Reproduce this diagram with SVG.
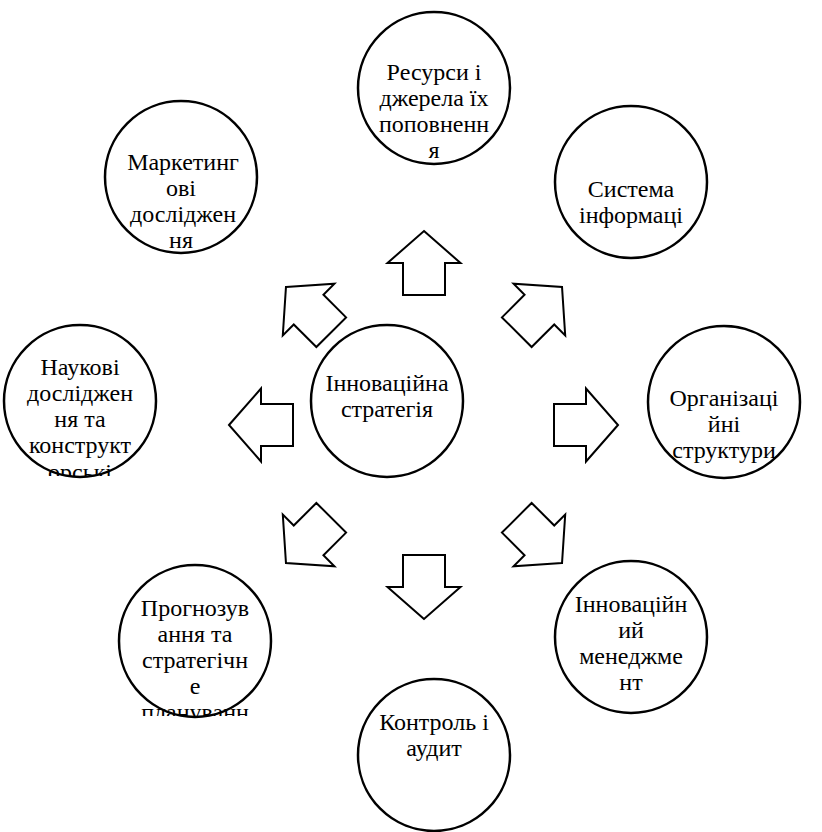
<svg xmlns="http://www.w3.org/2000/svg" width="822" height="832" viewBox="0 0 822 832">
<style>
.c{fill:#fff;stroke:#000;stroke-width:2.5}
.a{fill:#fff;stroke:#000;stroke-width:2;stroke-linejoin:miter}
text{font-family:"Liberation Serif","Times New Roman",serif;font-size:24px;fill:#000;text-anchor:middle}
</style>
<defs>
<path id="arr" d="M0,-32 L36.5,0 L21,0 L21,32 L-21,32 L-21,0 L-36.5,0 Z"/>
<clipPath id="clipN"><rect x="0" y="340" width="170" height="136"/></clipPath>
<clipPath id="clipP"><rect x="110" y="580" width="170" height="136"/></clipPath>
</defs>
<rect width="822" height="832" fill="#fff"/>
<g id="connectors">
<use href="#arr" class="a" transform="translate(424,263)"/>
<use href="#arr" class="a" transform="translate(424,587) rotate(180)"/>
<use href="#arr" class="a" transform="translate(261,425) rotate(-90)"/>
<use href="#arr" class="a" transform="translate(586,425) rotate(90)"/>
<use href="#arr" class="a" transform="translate(308.6,309.6) rotate(-45)"/>
<use href="#arr" class="a" transform="translate(539.4,309.6) rotate(45)"/>
<use href="#arr" class="a" transform="translate(308.6,540.4) rotate(-135)"/>
<use href="#arr" class="a" transform="translate(539.4,540.4) rotate(135)"/>
</g>
<g id="n-resources">
<circle class="c" cx="434" cy="88" r="76"/>
<text x="434" y="80">Ресурси і</text>
<text x="434" y="106">джерела їх</text>
<text x="434" y="132">поповненн</text>
<text x="434" y="158">я</text>
</g>
<g id="n-marketing">
<circle class="c" cx="181" cy="177" r="76"/>
<text x="183" y="170">Маркетинг</text>
<text x="181" y="196">ові</text>
<text x="183" y="222">досліджен</text>
<text x="181" y="248">ня</text>
</g>
<g id="n-info">
<circle class="c" cx="631" cy="182" r="76"/>
<text x="631" y="197">Система</text>
<text x="631" y="223">інформаці</text>
</g>
<g id="n-science">
<circle class="c" cx="80" cy="401" r="76"/>
<g clip-path="url(#clipN)">
<text x="80" y="375">Наукові</text>
<text x="80" y="401">досліджен</text>
<text x="80" y="427">ня та</text>
<text x="80" y="453">конструкт</text>
<text x="80" y="480">орські</text>
</g>
</g>
<g id="n-center">
<circle class="c" cx="387" cy="401" r="76"/>
<text x="387" y="391">Інноваційна</text>
<text x="387" y="417">стратегія</text>
</g>
<g id="n-org">
<circle class="c" cx="724" cy="402" r="76"/>
<text x="724" y="406">Організаці</text>
<text x="724" y="432">йні</text>
<text x="724" y="458">структури</text>
</g>
<g id="n-forecast">
<circle class="c" cx="195" cy="641" r="76"/>
<g clip-path="url(#clipP)">
<text x="195" y="616">Прогнозув</text>
<text x="195" y="642">ання та</text>
<text x="195" y="668">стратегічн</text>
<text x="195" y="694">е</text>
<text x="195" y="720">плануванн</text>
</g>
</g>
<g id="n-management">
<circle class="c" cx="631" cy="637" r="76"/>
<text x="631" y="612">Інноваційн</text>
<text x="631" y="638">ий</text>
<text x="631" y="664">менеджме</text>
<text x="631" y="690">нт</text>
</g>
<g id="n-control">
<circle class="c" cx="434" cy="755" r="76"/>
<text x="434" y="730">Контроль і</text>
<text x="434" y="756">аудит</text>
</g>
</svg>
